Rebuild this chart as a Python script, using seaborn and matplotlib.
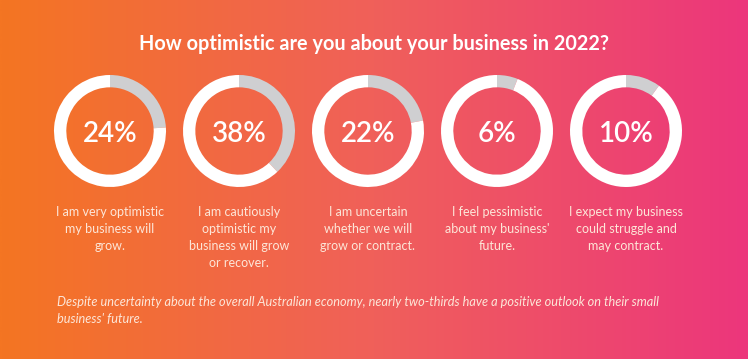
import numpy as np
import matplotlib
matplotlib.use("Agg")
import matplotlib.pyplot as plt
import seaborn as sns
from matplotlib.colors import LinearSegmentedColormap

sns.set_theme(style="white")
plt.rcParams['font.family'] = ['Lato', 'DejaVu Sans']

title = "How optimistic are you about your business in 2022?"
percents = [24, 38, 22, 6, 10]
labels = [
    "I am very optimistic\nmy business will\ngrow.",
    "I am cautiously\noptimistic my\nbusiness will grow\nor recover.",
    "I am uncertain\nwhether we will\ngrow or contract.",
    "I feel pessimistic\nabout my business'\nfuture.",
    "I expect my business\ncould struggle and\nmay contract.",
]
footnote = ("Despite uncertainty about the overall Australian economy, nearly two-thirds have a positive outlook on their small\n"
            "business' future.")

W, H = 748, 359
fig = plt.figure(figsize=(W / 100, H / 100), dpi=100)

# gradient background
bg = fig.add_axes([0, 0, 1, 1])
cmap = LinearSegmentedColormap.from_list("bg", ["#F47522", "#F0605A", "#EC367C"])
grad = np.linspace(0, 1, 512).reshape(1, -1)
bg.imshow(grad, aspect="auto", cmap=cmap, extent=[0, 1, 0, 1])
bg.set_xlim(0, 1)
bg.set_ylim(0, 1)
bg.axis("off")

bg.text(0.5, 1 - 44 / H, title, ha="center", va="center", color="white",
        fontsize=14.3, fontweight="bold")

centers_x = [110, 239, 368, 497, 626]
cy = 131
R = 56
for cx, p, lab in zip(centers_x, percents, labels):
    ax = fig.add_axes([(cx - R) / W, (H - cy - R) / H, 2 * R / W, 2 * R / H])
    ax.pie([p, 100 - p], colors=["#CFCFD1", "white"], startangle=90,
           counterclock=False, radius=1.0,
           wedgeprops=dict(width=0.22, edgecolor="none"))
    ax.set_aspect("equal")
    ax.set_xlim(-1, 1)
    ax.set_ylim(-1, 1)
    ax.axis("off")
    ax.text(0, -0.05, f"{p}%", ha="center", va="center", color="white",
            fontsize=20, fontweight="semibold")
    bg.text(cx / W, 1 - 206 / H, lab, ha="center", va="top", color="#FDE6D8",
            fontsize=9, linespacing=1.5)

bg.text(57 / W, 1 - 296 / H, footnote, ha="left", va="top", color="#FDE6D8",
        fontsize=9.2, style="italic", linespacing=1.5)

fig.savefig("out.png", dpi=100)
